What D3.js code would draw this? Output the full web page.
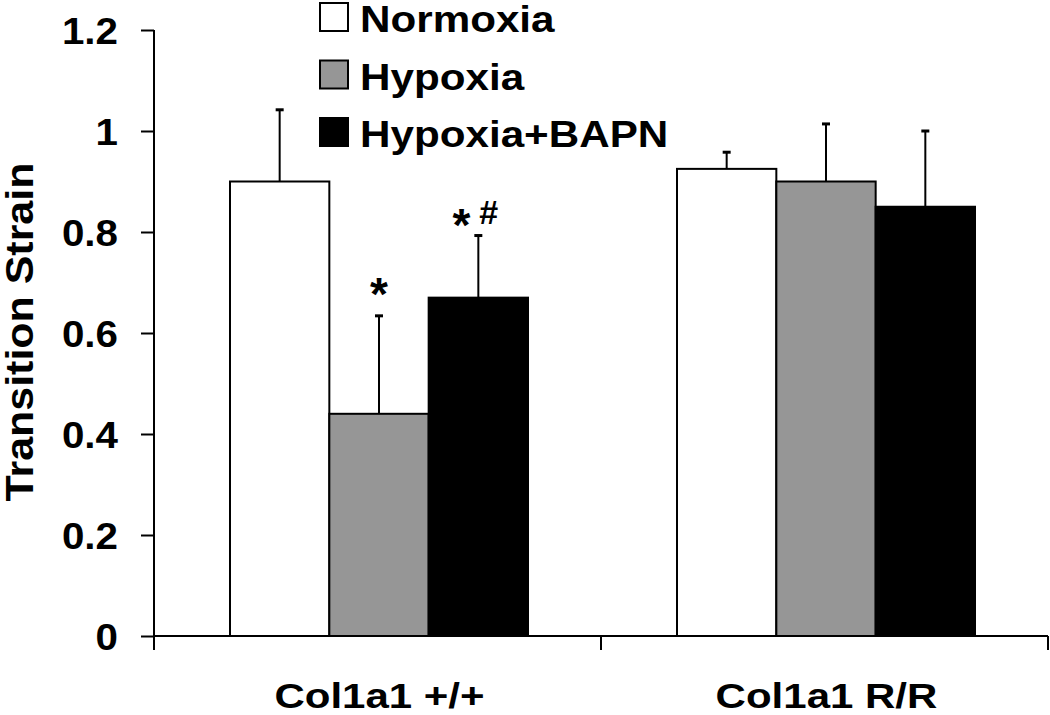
<!DOCTYPE html>
<html><head><meta charset="utf-8">
<script src="https://cdn.jsdelivr.net/npm/d3@7"></script>
<style>
html,body{margin:0;padding:0;background:#fff;}
text{font-family:"Liberation Sans",Arial,sans-serif;font-weight:bold;fill:#000;}
</style></head>
<body><svg id="c" width="1050" height="715"></svg>
<script>
const groups = ["Col1a1 +/+", "Col1a1 R/R"];
const seriesNames = ["Normoxia", "Hypoxia", "Hypoxia+BAPN"];
const normoxiaMean = [0.90, 0.925];
const hypoxiaMean = [0.44, 0.90];
const bapnMean = [0.67, 0.85];
const normoxiaErr = [0.142, 0.033];
const hypoxiaErr = [0.194, 0.114];
const bapnErr = [0.123, 0.15];
const yTicks = [0, 0.2, 0.4, 0.6, 0.8, 1, 1.2];
const yTickLabels = ["0", "0.2", "0.4", "0.6", "0.8", "1", "1.2"];
const annotations = [
  {group: "Col1a1 +/+", series: "Hypoxia", label: "*", sup: ""},
  {group: "Col1a1 +/+", series: "Hypoxia+BAPN", label: "*", sup: "#"}
];

const colors = {"Normoxia": "#ffffff", "Hypoxia": "#969696", "Hypoxia+BAPN": "#000000"};
const means = {"Normoxia": normoxiaMean, "Hypoxia": hypoxiaMean, "Hypoxia+BAPN": bapnMean};
const errs = {"Normoxia": normoxiaErr, "Hypoxia": hypoxiaErr, "Hypoxia+BAPN": bapnErr};

function stretch(sel, k) {
  sel.each(function () {
    const w = this.getComputedTextLength();
    d3.select(this).attr("textLength", w * k).attr("lengthAdjust", "spacingAndGlyphs");
  });
}

const svg = d3.select("#c");
const y = d3.scaleLinear().domain([0, 1.2]).range([636, 30]);
const x0 = d3.scaleBand().domain(groups).range([154, 1048]).padding(0);
const x1 = d3.scaleBand().domain(seriesNames).range([76, 374]).padding(0);

const data = [];
groups.forEach((g, gi) => seriesNames.forEach(s => data.push({g, s, v: means[s][gi], e: errs[s][gi]})));

// error bars
const eb = svg.append("g").attr("stroke", "#000").attr("stroke-width", 2);
data.forEach(d => {
  const cx = x0(d.g) + x1(d.s) + x1.bandwidth() / 2;
  eb.append("line").attr("x1", cx).attr("x2", cx).attr("y1", y(d.v)).attr("y2", y(d.v + d.e));
  eb.append("line").attr("x1", cx - 4).attr("x2", cx + 4).attr("y1", y(d.v + d.e)).attr("y2", y(d.v + d.e)).attr("stroke-width", 3);
});

// bars
svg.append("g").selectAll("rect").data(data).join("rect")
  .attr("x", d => x0(d.g) + x1(d.s))
  .attr("y", d => y(d.v))
  .attr("width", x1.bandwidth())
  .attr("height", d => y(0) - y(d.v))
  .attr("fill", d => colors[d.s])
  .attr("stroke", "#000").attr("stroke-width", 2);

// y axis
const yAxis = svg.append("g").attr("transform", "translate(154,0)")
  .call(d3.axisLeft(y).tickValues(yTicks).tickSize(13).tickPadding(23)
    .tickFormat((d, i) => yTickLabels[i]));
yAxis.select(".domain").attr("stroke", "#000").attr("stroke-width", 2).attr("d", "M0," + y(1.2) + "V" + y(0));
yAxis.selectAll(".tick line").attr("stroke", "#000").attr("stroke-width", 2);
yAxis.selectAll(".tick text").attr("font-size", 37).attr("font-family", "Liberation Sans, Arial, sans-serif")
  .attr("font-weight", "bold").attr("fill", "#000").attr("dy", "0.36em");
stretch(yAxis.selectAll(".tick text"), 1.09);

// x axis
const xg = svg.append("g");
xg.append("line").attr("x1", x0.range()[0]).attr("x2", x0.range()[1]).attr("y1", y(0)).attr("y2", y(0))
  .attr("stroke", "#000").attr("stroke-width", 2);
const edges = groups.map(g => x0(g)).concat([x0.range()[1]]);
xg.selectAll("line.tk").data(edges).join("line").attr("class", "tk")
  .attr("x1", d => d).attr("x2", d => d).attr("y1", y(0)).attr("y2", y(0) + 14)
  .attr("stroke", "#000").attr("stroke-width", 2);
const xl = xg.selectAll("text").data(groups).join("text")
  .attr("x", d => x0(d) + x0.bandwidth() / 2 + 2).attr("y", 708)
  .attr("text-anchor", "middle").attr("font-size", 35).text(d => d);
stretch(xl, 1.2);

// y title
const yt = svg.append("text").attr("transform", "translate(33,332) rotate(-90)")
  .attr("text-anchor", "middle").attr("font-size", 38).text("Transition Strain");
stretch(yt, 1.13);

// legend
const lg = svg.append("g");
seriesNames.forEach((s, i) => {
  const yy = 3 + i * 57.5;
  lg.append("rect").attr("x", 320).attr("y", yy).attr("width", 28).attr("height", 28)
    .attr("fill", colors[s]).attr("stroke", "#000").attr("stroke-width", 2);
  const t = lg.append("text").attr("x", 360).attr("y", yy + 29).attr("font-size", 37).text(s);
  stretch(t, 1.14);
});

// annotations
const annOffsets = [27, 16];
annotations.forEach((a, i) => {
  const gi = groups.indexOf(a.group);
  const cx = x0(a.group) + x1(a.series) + x1.bandwidth() / 2;
  const top = y(means[a.series][gi] + errs[a.series][gi]);
  const base = top - annOffsets[i] + 21;
  svg.append("text").attr("font-size", 46).attr("text-anchor", "middle")
    .attr("x", a.sup ? cx - 17 : cx).attr("y", base).text(a.label);
  if (a.sup) {
    svg.append("text").attr("font-size", 34).attr("x", cx + 1).attr("y", top - 12).text(a.sup);
  }
});
</script></body></html>
